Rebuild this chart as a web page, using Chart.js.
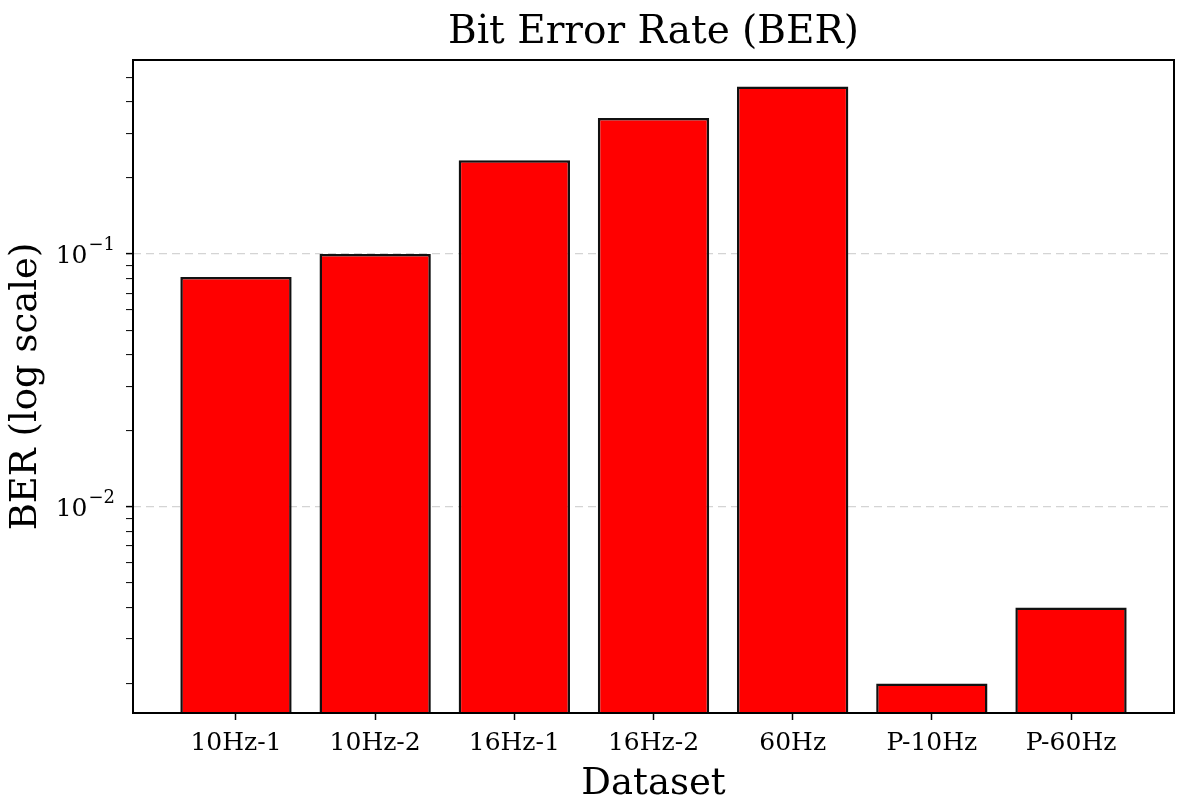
<!DOCTYPE html>
<html>
<head>
<meta charset="utf-8">
<script src="https://cdn.jsdelivr.net/npm/chart.js@4.4.1/dist/chart.umd.min.js"></script>
<style>
  html, body { margin: 0; padding: 0; background: #fff; }
  #wrap { width: 1194px; height: 812px; }
</style>
</head>
<body>
<div id="wrap"><canvas id="berChart"></canvas></div>
<script>
// data
const datasets = ['10Hz-1', '10Hz-2', '16Hz-1', '16Hz-2', '60Hz', 'P-10Hz', 'P-60Hz'];
const berValues = [0.081, 0.1, 0.235, 0.345, 0.46, 0.002, 0.004];
const majorTicks = [0.01, 0.1];
const majorExp = ['\u22122', '\u22121'];
const minorTicks = [0.002, 0.003, 0.004, 0.005, 0.006, 0.007, 0.008, 0.009,
                    0.02, 0.03, 0.04, 0.05, 0.06, 0.07, 0.08, 0.09,
                    0.2, 0.3, 0.4, 0.5];

const serif = "'DejaVu Serif', serif";

const isMajor = v => majorTicks.some(m => Math.abs(m - v) < m * 1e-6);

// title, 10^n tick labels and black frame like matplotlib
const framePlugin = {
  id: 'frame',
  afterDraw(chart) {
    const {ctx, chartArea: a} = chart;
    const y = chart.scales.y;
    ctx.save();
    ctx.strokeStyle = '#000';
    ctx.lineWidth = 2;
    ctx.strokeRect(a.left, a.top, a.right - a.left, a.bottom - a.top);
    ctx.fillStyle = '#000';
    ctx.font = '39px ' + serif;
    ctx.textAlign = 'center';
    ctx.textBaseline = 'alphabetic';
    ctx.fillText('Bit Error Rate (BER)', (a.left + a.right) / 2, 43);

    // power-of-ten labels
    majorTicks.forEach((m, k) => {
      const py = y.getPixelForValue(m);
      const right = a.left - 18;
      ctx.textAlign = 'right';
      ctx.textBaseline = 'alphabetic';
      ctx.font = '18px ' + serif;
      const ew = ctx.measureText(majorExp[k]).width;
      ctx.fillText(majorExp[k], right, py - 4);
      ctx.font = '25px ' + serif;
      ctx.fillText('10', right - ew - 1, py + 9);
    });
    ctx.restore();
  }
};

new Chart(document.getElementById('berChart'), {
  type: 'bar',
  data: {
    datasets: [{
      label: 'BER',
      data: datasets.map((d, i) => ({x: i, y: berValues[i]})),
      backgroundColor: '#ff0000',
      borderColor: '#111',
      borderWidth: 2.5,
      borderSkipped: 'start',
      barPercentage: 0.8,
      categoryPercentage: 1.0
    }]
  },
  options: {
    responsive: true,
    maintainAspectRatio: false,
    animation: false,
    layout: { padding: { top: 60, right: 20, bottom: 0, left: 0 } },
    plugins: {
      legend: { display: false },
      tooltip: { enabled: false }
    },
    scales: {
      x: {
        type: 'linear',
        offset: false,
        min: -0.74,
        max: 6.74,
        afterBuildTicks: scale => {
          scale.ticks = datasets.map((d, i) => ({value: i}));
        },
        afterFit: scale => { scale.height = 99; },
        border: { display: false },
        grid: { offset: false, drawOnChartArea: false, drawTicks: true, tickLength: 7, tickColor: '#000', tickWidth: 1.5 },
        ticks: {
          autoSkip: false,
          maxRotation: 0,
          padding: 8,
          color: '#000',
          font: { family: serif, size: 25 },
          callback: v => datasets[v]
        },
        title: {
          display: true,
          text: 'Dataset',
          color: '#000',
          font: { family: serif, size: 37 },
          padding: { top: 0, bottom: 5 }
        }
      },
      y: {
        type: 'logarithmic',
        min: 0.00153,
        max: 0.585,
        afterBuildTicks: scale => {
          scale.ticks = majorTicks.concat(minorTicks).sort((a, b) => a - b)
            .map(v => ({value: v, major: isMajor(v)}));
        },
        afterFit: scale => { scale.width = 133; },
        border: { display: false, dash: [8, 5] },
        grid: {
          color: c => (c.tick && isMajor(c.tick.value)) ? '#d4d4d4' : 'rgba(0,0,0,0)',
          lineWidth: 1.2,
          tickColor: '#000',
          tickLength: 7,
          tickWidth: c => (c.tick && isMajor(c.tick.value)) ? 1.5 : 1,
          tickBorderDash: []
        },
        ticks: {
          autoSkip: false,
          padding: 10,
          color: '#000',
          font: { family: serif, size: 25 },
          callback: () => ''
        },
        title: {
          display: true,
          text: 'BER (log scale)',
          color: '#000',
          font: { family: serif, size: 37 },
          padding: { top: 4, bottom: 0 }
        }
      }
    }
  },
  plugins: [framePlugin]
});
</script>
</body>
</html>
